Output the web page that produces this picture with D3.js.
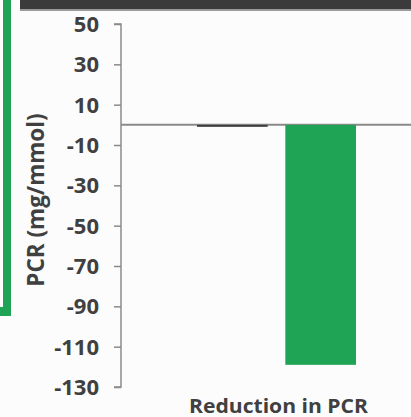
<!DOCTYPE html>
<html><head><meta charset="utf-8">
<script src="https://cdn.jsdelivr.net/npm/d3@7"></script>
<style>html,body{margin:0;padding:0;background:#fff;}svg{display:block;}</style>
</head><body>
<script>
const categories = ["Reduction in PCR"];
const seriesNames = ["Control", "Treatment"];
const seriesValues = [-1, -119];
const seriesColors = ["#404040", "#1fa354"];
const yTicks = [50, 30, 10, -10, -30, -50, -70, -90, -110, -130];

const W = 411, H = 417;
const FONT = "'Open Sans', sans-serif";
const svg = d3.select("body").append("svg").attr("width", W).attr("height", H);

// background
svg.append("rect").attr("width", W).attr("height", H).attr("fill", "#fcfcfc");

// header bar
svg.append("rect").attr("x", 20).attr("y", 0).attr("width", W - 20).attr("height", 9).attr("fill", "#3b3b3b");
svg.append("rect").attr("x", 20).attr("y", 9).attr("width", W - 20).attr("height", 2).attr("fill", "#9a9a9a");

// green frame corner
svg.append("rect").attr("x", 3).attr("y", 0).attr("width", 8).attr("height", 316).attr("fill", "#1fa354");
svg.append("rect").attr("x", 0).attr("y", 307).attr("width", 11).attr("height", 9).attr("fill", "#1fa354");

const axisX = 121;
const y = d3.scaleLinear().domain([50, -130]).range([24, 387]);
const x0 = d3.scaleBand().domain(categories).range([197, 356]).padding(0);
const x1 = d3.scaleBand().domain(seriesNames).range([0, x0.bandwidth()]).paddingInner(0.2).paddingOuter(0);

// axis
const yAxis = d3.axisLeft(y).tickValues(yTicks).tickSize(7).tickPadding(15)
  .tickFormat(d => String(d));
const ga = svg.append("g").attr("transform", `translate(${axisX},0)`).call(yAxis);
ga.select(".domain").attr("stroke", "#8a8a8a").attr("stroke-width", 1.5)
  .attr("d", `M-7,${y(50)}H0V${y(-130)}H-7`);
ga.selectAll(".tick line").attr("stroke", "#8a8a8a").attr("stroke-width", 1.5);
ga.selectAll(".tick text").attr("fill", "#404040").attr("font-family", FONT).attr("font-weight", "bold").attr("font-size", 22)
  .attr("dy", "0.34em");

// zero line
svg.append("line").attr("x1", axisX).attr("x2", W).attr("y1", y(0)).attr("y2", y(0))
  .attr("stroke", "#8a8a8a").attr("stroke-width", 2);

// bars
const g = svg.append("g");
categories.forEach(cat => {
  seriesNames.forEach((s, i) => {
    const v = seriesValues[i];
    g.append("rect")
      .attr("x", x0(cat) + x1(s))
      .attr("width", x1.bandwidth())
      .attr("y", y(Math.max(0, v)))
      .attr("height", Math.abs(y(v) - y(0)))
      .attr("fill", seriesColors[i]);
  });
  svg.append("text").attr("x", x0(cat) + x0.bandwidth() / 2 + 2).attr("y", 413)
    .attr("text-anchor", "middle").attr("fill", "#404040")
    .attr("font-family", FONT).attr("font-weight", "bold").attr("font-size", 20)
    .attr("textLength", 179).attr("lengthAdjust", "spacingAndGlyphs")
    .text(cat);
});

// y title
svg.append("text").attr("transform", `translate(44,200) rotate(-90)`)
  .attr("text-anchor", "middle").attr("fill", "#404040")
  .attr("font-family", FONT).attr("font-weight", "bold").attr("font-size", 22.5)
  .text("PCR (mg/mmol)");
</script>
</body></html>
